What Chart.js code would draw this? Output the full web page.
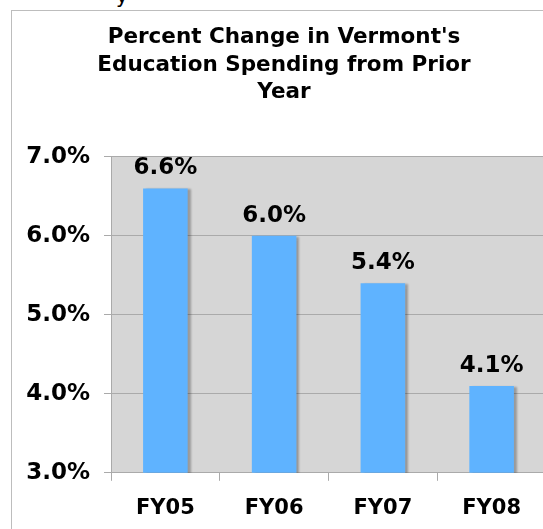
<!DOCTYPE html>
<html>
<head>
<meta charset="utf-8">
<script src="https://cdn.jsdelivr.net/npm/chart.js@4.4.1/dist/chart.umd.min.js"></script>
<style>
  html, body { margin: 0; padding: 0; background: #fff; overflow: hidden; }
  body { width: 543px; height: 529px; position: relative; }
  #frame { position: absolute; left: 11px; top: 10px; width: 600px; height: 600px;
           border-left: 1px solid #bdbdbd; border-top: 1px solid #bdbdbd; }
  #clip { position: absolute; left: 116px; top: -16px; font: 20px "DejaVu Sans", sans-serif; color: #000; }
  #wrap { position: absolute; left: 0; top: 0; width: 550px; height: 545px; }
</style>
</head>
<body>
<div id="clip">y</div>
<div id="frame"></div>
<div id="wrap"><canvas id="chart"></canvas></div>
<script>
const titleLines = ["Percent Change in Vermont's", 'Education Spending from Prior', 'Year'];
const years = ['FY05', 'FY06', 'FY07', 'FY08'];
const pctChange = [6.6, 6.0, 5.4, 4.1];
const yTicks = [3, 4, 5, 6, 7];

const FONT = '"DejaVu Sans", Verdana, sans-serif';

// grey plot background
const plotBg = {
  id: 'plotBg',
  beforeDraw(chart) {
    const { ctx, chartArea: a } = chart;
    ctx.save();
    ctx.fillStyle = '#d6d6d6';
    ctx.fillRect(a.left, a.top, a.right - a.left, a.bottom - a.top);
    ctx.restore();
  }
};

// drop shadow on bars
const barShadow = {
  id: 'barShadow',
  beforeDatasetsDraw(chart) {
    const ctx = chart.ctx;
    ctx.save();
    ctx.shadowColor = 'rgba(0,0,0,0.28)';
    ctx.shadowOffsetX = 3;
    ctx.shadowOffsetY = 1;
    ctx.shadowBlur = 2;
  },
  afterDatasetsDraw(chart) { chart.ctx.restore(); }
};

// value labels above bars
const valueLabels = {
  id: 'valueLabels',
  afterDatasetsDraw(chart) {
    const ctx = chart.ctx;
    const meta = chart.getDatasetMeta(0);
    ctx.save();
    ctx.font = 'bold 23px ' + FONT;
    ctx.fillStyle = '#000';
    ctx.textAlign = 'center';
    ctx.textBaseline = 'middle';
    meta.data.forEach((bar, i) => {
      ctx.fillText(pctChange[i].toFixed(1) + '%', bar.x, bar.y - 20);
    });
    ctx.restore();
  }
};

new Chart(document.getElementById('chart'), {
  type: 'bar',
  data: {
    labels: years,
    datasets: [{
      data: pctChange,
      backgroundColor: '#5fb3ff',
      borderWidth: 0,
      barPercentage: 0.41,
      categoryPercentage: 1.0
    }]
  },
  options: {
    responsive: true,
    maintainAspectRatio: false,
    animation: false,
    layout: { padding: { left: 22, right: 4, top: 0, bottom: 9 } },
    plugins: {
      legend: { display: false },
      tooltip: { enabled: false },
      title: {
        display: true,
        text: titleLines,
        color: '#000',
        font: { family: FONT, size: 21.5, weight: 'bold', lineHeight: 1.3 },
        padding: { top: 23, bottom: 50 }
      }
    },
    scales: {
      y: {
        min: 3, max: 7,
        afterFit(scale) { scale.width = 89; },
        afterBuildTicks(scale) { scale.ticks = yTicks.map(v => ({ value: v })); },
        ticks: {
          color: '#000',
          padding: 14,
          font: { family: FONT, size: 23, weight: 'bold' },
          callback: v => v.toFixed(1) + '%'
        },
        grid: { color: '#aaaaaa', lineWidth: 1, tickLength: 7, drawTicks: true },
        border: { color: '#aaaaaa', width: 1 }
      },
      x: {
        ticks: {
          color: '#000',
          padding: 15,
          font: { family: FONT, size: 21, weight: 'bold' }
        },
        grid: { offset: true, drawOnChartArea: false, drawTicks: true, tickLength: 8, color: '#aaaaaa' },
        border: { color: '#aaaaaa', width: 1 }
      }
    }
  },
  plugins: [plotBg, barShadow, valueLabels]
});
</script>
</body>
</html>
